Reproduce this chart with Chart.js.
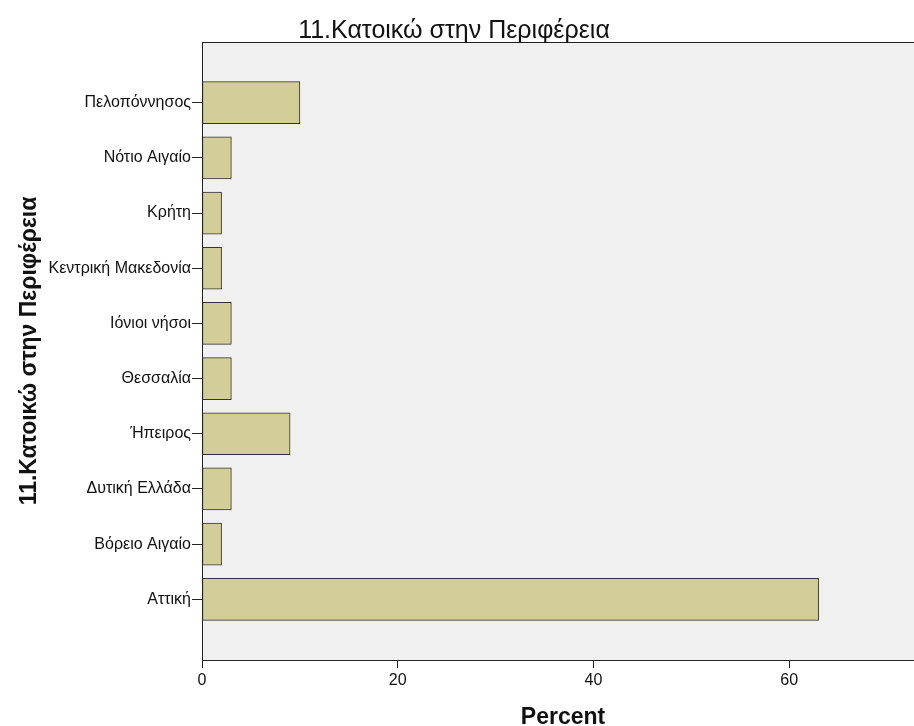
<!DOCTYPE html>
<html>
<head>
<meta charset="utf-8">
<script src="https://cdn.jsdelivr.net/npm/chart.js@4"></script>
<style>
  html, body { margin: 0; padding: 0; background: #ffffff; overflow: hidden; width: 914px; height: 726px; }
  #wrap { position: relative; width: 1000px; height: 726px; }
</style>
</head>
<body>
<div id="wrap"><canvas id="c" width="1000" height="726"></canvas></div>
<script>
// Categories listed from bottom to top (SPSS order)
const categories = ["Αττική", "Βόρειο Αιγαίο", "Δυτική Ελλάδα", "Ήπειρος", "Θεσσαλία",
                    "Ιόνιοι νήσοι", "Κεντρική Μακεδονία", "Κρήτη", "Νότιο Αιγαίο", "Πελοπόννησος"];
const percentValues = [63, 2, 3, 9, 3, 3, 2, 2, 3, 10];
const xTickValues = [0, 20, 40, 60, 80];
const chartTitle = "11.Κατοικώ στην Περιφέρεια";
const xAxisTitle = "Percent";
const yAxisTitle = "11.Κατοικώ στην Περιφέρεια";

const FONT = "'Liberation Sans', Arial, sans-serif";

const plotFrame = {
  id: 'plotFrame',
  beforeDraw(chart) {
    const { ctx, chartArea: a } = chart;
    ctx.save();
    ctx.fillStyle = '#f0f0f0';
    ctx.fillRect(a.left, a.top, a.right - a.left, a.bottom - a.top);
    ctx.restore();
  },
  afterDraw(chart) {
    const { ctx, chartArea: a } = chart;
    ctx.save();
    ctx.strokeStyle = '#222';
    ctx.lineWidth = 1;
    ctx.strokeRect(Math.round(a.left) + 0.5, Math.round(a.top) + 0.5, a.right - a.left, a.bottom - a.top);
    // texts
    ctx.fillStyle = '#111';
    ctx.textAlign = 'center';
    ctx.textBaseline = 'alphabetic';
    ctx.font = "25px " + FONT;
    ctx.fillText(chartTitle, 454, 38);
    ctx.font = "bold 23px " + FONT;
    ctx.fillText(xAxisTitle, 563, 724);
    ctx.translate(36, (a.top + a.bottom) / 2);
    ctx.rotate(-Math.PI / 2);
    ctx.fillText(yAxisTitle, 0, 0);
    ctx.restore();
  }
};

new Chart(document.getElementById('c'), {
  type: 'bar',
  data: {
    datasets: [{
      data: percentValues.map((v, i) => ({ x: v, y: i })),
      backgroundColor: '#d3ce97',
      borderColor: '#333333',
      borderWidth: 1,
      borderSkipped: false,
      barThickness: 42
    }]
  },
  options: {
    indexAxis: 'y',
    responsive: false,
    animation: false,
    devicePixelRatio: 1,
    layout: { padding: { left: 0, top: 42, right: 15, bottom: 0 } },
    plugins: { legend: { display: false }, title: { display: false }, tooltip: { enabled: false } },
    scales: {
      x: {
        type: 'linear',
        min: 0, max: 80,
        afterBuildTicks: (s) => { s.ticks = xTickValues.map(v => ({ value: v })); },
        afterFit: (s) => { s.height = 66; },
        ticks: { color: '#111', font: { size: 16, family: FONT }, padding: 3 },
        grid: { drawOnChartArea: false, drawTicks: true, tickLength: 8, color: '#222' },
        border: { display: true, color: '#222', width: 1 }
      },
      y: {
        type: 'linear',
        offset: false,
        min: -1.1, max: 10.1,
        afterBuildTicks: (s) => { s.ticks = categories.map((_, i) => ({ value: i })); },
        afterFit: (s) => { s.width = 202; },
        ticks: { color: '#111', font: { size: 16, family: FONT }, padding: 1,
                 callback: (v) => categories[v] },
        grid: { offset: false, drawOnChartArea: false, drawTicks: true, tickLength: 10, color: '#222' },
        border: { display: true, color: '#222', width: 1 }
      }
    }
  },
  plugins: [plotFrame]
});
</script>
</body>
</html>
